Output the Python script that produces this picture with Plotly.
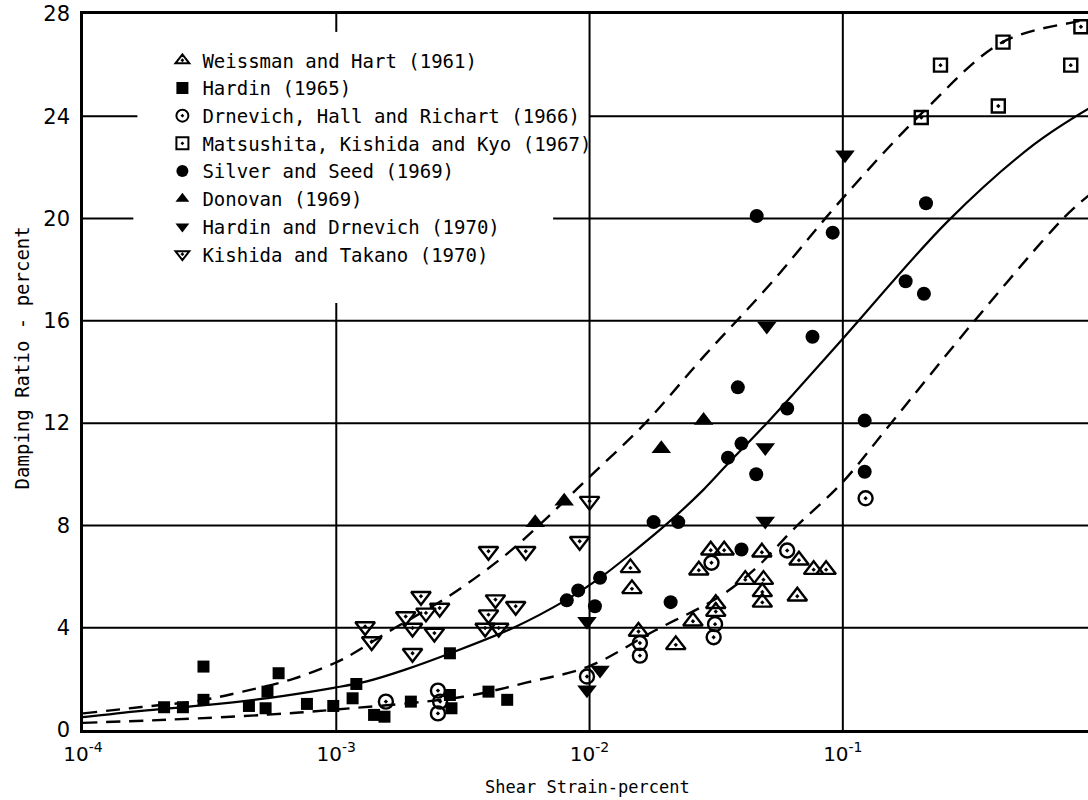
import plotly.graph_objects as go

# ---------------- data (shear strain in percent, damping ratio in percent) -------------
weissman_x = [1.45e-2, 1.47e-2, 1.56e-2, 2.19e-2, 2.56e-2, 2.70e-2, 3.01e-2, 3.40e-2, 3.15e-2, 3.15e-2,
              4.12e-2, 4.86e-2, 4.79e-2, 4.81e-2, 4.81e-2, 6.61e-2, 6.71e-2, 7.67e-2, 8.59e-2]
weissman_y = [6.34, 5.52, 3.85, 3.33, 4.25, 6.25, 7.03, 7.03, 4.94, 4.63,
              5.88, 5.88, 6.95, 5.40, 4.99, 5.23, 6.64, 6.27, 6.27]

hardin_x = [2.09e-4, 2.48e-4, 2.99e-4, 2.99e-4, 4.52e-4, 5.26e-4, 5.35e-4, 5.92e-4, 7.66e-4, 9.73e-4,
            1.16e-3, 1.20e-3, 1.41e-3, 1.55e-3, 1.97e-3, 2.81e-3, 2.85e-3, 2.81e-3, 3.99e-3, 4.73e-3]
hardin_y = [0.89, 0.89, 2.48, 1.18, 0.94, 0.85, 1.50, 2.22, 1.02, 0.94,
            1.24, 1.80, 0.59, 0.52, 1.11, 1.37, 0.85, 3.00, 1.50, 1.18]

drnevich_x = [1.23e-1, 6.03e-2, 3.03e-2, 3.13e-2, 3.09e-2, 1.58e-2, 1.58e-2, 9.77e-3,
              1.57e-3, 2.52e-3, 2.57e-3, 2.52e-3]
drnevich_y = [9.06, 7.02, 6.54, 4.14, 3.63, 3.40, 2.91, 2.09,
              1.11, 1.54, 1.11, 0.65]

matsushita_x = [2.04e-1, 4.29e-1, 2.43e-1, 4.11e-1, 7.94e-1, 8.71e-1]
matsushita_y = [23.95, 26.9, 26.0, 24.4, 26.0, 27.5]

silver_x = [8.13e-3, 9.02e-3, 1.10e-2, 1.05e-2, 1.79e-2, 2.24e-2, 2.09e-2, 3.98e-2, 3.52e-2, 3.98e-2,
            4.55e-2, 3.85e-2, 6.03e-2, 7.59e-2, 4.57e-2, 9.12e-2, 1.22e-1, 1.22e-1, 1.77e-1, 2.09e-1,
            2.13e-1]
silver_y = [5.07, 5.46, 5.95, 4.84, 8.13, 8.13, 5.00, 7.06, 10.65, 11.2,
            10.0, 13.4, 12.57, 15.38, 20.1, 19.45, 12.1, 10.1, 17.55, 17.06,
            20.6]

donovan_x = [6.10e-3, 7.94e-3, 1.92e-2, 2.82e-2]
donovan_y = [8.1, 8.95, 11.0, 12.1]

hd_x = [9.77e-3, 1.10e-2, 9.77e-3, 4.94e-2, 4.94e-2, 5.01e-2, 1.02e-1]
hd_y = [4.25, 2.35, 1.57, 8.17, 11.05, 15.8, 22.5]

kishido_x = [1.30e-3, 1.38e-3, 1.88e-3, 2.00e-3, 2.16e-3, 2.26e-3, 2.56e-3, 2.44e-3, 2.00e-3,
             3.99e-3, 5.60e-3, 4.25e-3, 5.11e-3, 3.99e-3, 3.87e-3, 4.38e-3, 9.14e-3, 1.00e-2]
kishido_y = [4.05, 3.46, 4.44, 3.99, 5.23, 4.58, 4.77, 3.79, 3.00,
             6.99, 6.99, 5.10, 4.84, 4.51, 3.99, 3.99, 7.38, 8.95]

# curves
mean_x = [1.00e-4, 1.70e-4, 2.88e-4, 5.37e-4, 9.77e-4, 1.32e-3, 1.86e-3, 2.82e-3, 5.01e-3, 8.13e-3,
          1.10e-2, 1.48e-2, 2.04e-2, 2.82e-2, 3.47e-2, 5.01e-2, 6.46e-2, 1.02e-1, 2.60e-1, 5.69e-1,
          9.33e-1]
mean_y = [0.50, 0.75, 0.95, 1.25, 1.65, 1.90, 2.35, 3.00, 4.00, 5.10,
          5.95, 6.95, 8.10, 9.40, 10.35, 12.0, 13.2, 15.4, 19.9, 22.9,
          24.3]

upper_x = [1.00e-4, 1.70e-4, 2.88e-4, 4.27e-4, 6.76e-4, 9.77e-4, 1.17e-3, 1.58e-3, 2.85e-3, 4.68e-3,
           6.31e-3, 1.00e-2, 1.66e-2, 2.82e-2, 5.13e-2, 1.00e-1, 2.09e-1, 4.27e-1, 8.32e-1, 9.33e-1]
upper_y = [0.65, 0.90, 1.15, 1.50, 2.00, 2.60, 3.00, 3.80, 5.30, 6.86,
           8.00, 9.90, 12.0, 14.6, 17.4, 20.8, 24.2, 26.9, 27.7, 27.8]

lower_x = [1.00e-4, 2.14e-4, 5.37e-4, 1.00e-3, 3.16e-3, 5.62e-3, 1.00e-2, 1.82e-2, 3.24e-2, 4.47e-2,
           6.46e-2, 1.00e-1, 1.55e-1, 3.31e-1, 7.41e-1, 9.33e-1]
lower_y = [0.28, 0.40, 0.60, 0.80, 1.30, 1.85, 2.50, 3.90, 5.20, 6.27,
           7.90, 9.70, 12.0, 16.0, 20.0, 20.9]

x_tick_vals = [1e-4, 1e-3, 1e-2, 1e-1]
x_tick_text = ["10<sup>-4</sup>", "10<sup>-3</sup>", "10<sup>-2</sup>", "10<sup>-1</sup>"]
y_tick_vals = [0, 4, 8, 12, 16, 20, 24, 28]

names = ["Weissman and Hart (1961)", "Hardin (1965)", "Drnevich, Hall and Richart (1966)",
         "Matsushita, Kishida and Kyo (1967)", "Silver and Seed (1969)", "Donovan (1969)",
         "Hardin and Drnevich (1970)", "Kishida and Takano (1970)"]

# ---------------- figure ----------------
FONT = "DejaVu Sans"
MONO = "DejaVu Sans Mono"
BLACK = "black"
fig = go.Figure()

# grid lines (partial, as in the original drawing)
gx, gy = [], []
for yv in [4, 8, 12, 16]:
    gx += [1e-4, 1.0, None]; gy += [yv, yv, None]
gx += [1e-4, 1.58e-4, None, 7.18e-3, 1.0, None]; gy += [20, 20, None, 20, 20, None]
gx += [1e-4, 1.64e-4, None, 1e-2, 1.0, None]; gy += [24, 24, None, 24, 24, None]
gx += [1e-3, 1e-3, None, 1e-3, 1e-3, None]; gy += [0, 16.7, None, 27.3, 28, None]
for xv in [1e-2, 1e-1]:
    gx += [xv, xv, None]; gy += [0, 28, None]
fig.add_trace(go.Scatter(x=gx, y=gy, mode="lines", line=dict(color=BLACK, width=2),
                         showlegend=False, hoverinfo="skip"))

# curves
fig.add_trace(go.Scatter(x=upper_x, y=upper_y, mode="lines",
                         line=dict(color=BLACK, width=2.4, dash="14px,9px", shape="spline", smoothing=1.0),
                         showlegend=False, hoverinfo="skip"))
fig.add_trace(go.Scatter(x=lower_x, y=lower_y, mode="lines",
                         line=dict(color=BLACK, width=2.4, dash="14px,9px", shape="spline", smoothing=1.0),
                         showlegend=False, hoverinfo="skip"))
fig.add_trace(go.Scatter(x=mean_x, y=mean_y, mode="lines",
                         line=dict(color=BLACK, width=2.2, shape="spline", smoothing=1.0),
                         showlegend=False, hoverinfo="skip"))

def pts(x, y, name, symbol, size, open_=False):
    if open_:
        marker = dict(symbol=symbol, size=size, color=BLACK, line=dict(color=BLACK, width=2.4))
    else:
        marker = dict(symbol=symbol, size=size, color=BLACK, line=dict(color=BLACK, width=0))
    fig.add_trace(go.Scatter(x=x, y=y, mode="markers", name=name, marker=marker))

pts(weissman_x, weissman_y, names[0], "triangle-up-open-dot", 17, True)
pts(hardin_x, hardin_y, names[1], "square", 12)
pts(drnevich_x, drnevich_y, names[2], "circle-open-dot", 14, True)
pts(matsushita_x, matsushita_y, names[3], "square-open-dot", 13, True)
pts(silver_x, silver_y, names[4], "circle", 14)
pts(donovan_x, donovan_y, names[5], "triangle-up", 17)
pts(hd_x, hd_y, names[6], "triangle-down", 17)
pts(kishido_x, kishido_y, names[7], "triangle-down-open-dot", 17, True)

fig.update_layout(
    width=1088, height=800,
    margin=dict(l=83, r=0, t=14, b=70, autoexpand=False),
    paper_bgcolor="white", plot_bgcolor="white",
    font=dict(family=FONT, size=20, color=BLACK),
    showlegend=True,
    legend=dict(x=0.079, y=0.9617, xanchor="left", yanchor="top",
                bgcolor="rgba(0,0,0,0)", borderwidth=0,
                font=dict(family=MONO, size=19, color=BLACK),
                itemsizing="constant", tracegroupgap=0),
    xaxis=dict(type="log", range=[-4, -0.032], tickvals=x_tick_vals, ticktext=x_tick_text,
               showgrid=False, zeroline=False, showline=True, linecolor=BLACK, linewidth=2.5,
               mirror=True, ticks="", automargin=False, ticklabelstandoff=4,
               tickfont=dict(family=FONT, size=20, color=BLACK)),
    yaxis=dict(range=[0, 28], tickvals=y_tick_vals, showgrid=False, zeroline=False,
               showline=True, linecolor=BLACK, linewidth=2.5, ticks="", automargin=False,
               ticklabelstandoff=6, ticklabeloverflow="allow",
               tickfont=dict(family=FONT, size=21, color=BLACK)),
    annotations=[
        dict(text="Shear Strain-percent", xref="paper", yref="paper", x=0.502, y=-0.08,
             xanchor="center", yanchor="middle", showarrow=False,
             font=dict(family=MONO, size=17, color=BLACK)),
        dict(text="Damping Ratio - percent", xref="paper", yref="paper", x=-0.061, y=0.52,
             xanchor="center", yanchor="middle", textangle=-90, showarrow=False,
             font=dict(family=MONO, size=19, color=BLACK)),
    ],
)

# remove the browser's default 8px body margin so the 1088x800 figure fills the window
fig.write_html("out.html", config={"displayModeBar": False},
               post_script="document.body.style.margin='0px';")
